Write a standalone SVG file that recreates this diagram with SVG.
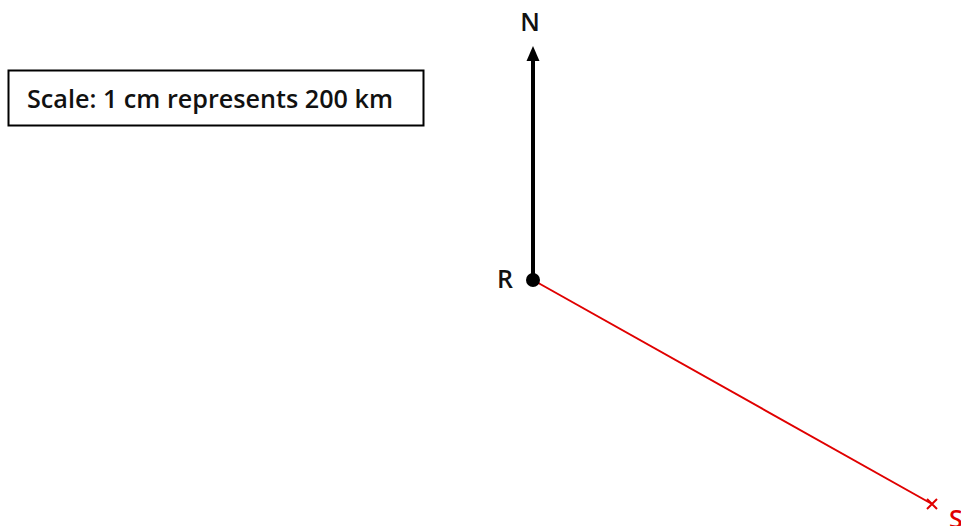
<svg xmlns="http://www.w3.org/2000/svg" width="961" height="526" viewBox="0 0 961 526">
<style>
.t{font-family:"Open Sans","Noto Sans","Liberation Sans",sans-serif;font-weight:600;font-size:25px;fill:#111}
</style>
<rect width="961" height="526" fill="#fff"/>
<g id="scale">
<rect x="8.5" y="70.5" width="415" height="55" fill="#fff" stroke="#000" stroke-width="2"/>
<text class="t" x="27" y="108" textLength="366" lengthAdjust="spacingAndGlyphs">Scale: 1 cm represents 200 km</text>
</g>
<g id="connectors">
<line x1="533" y1="280" x2="533" y2="60" stroke="#000" stroke-width="4"/>
<path d="M526.5,61 L533,46 L539.5,61 z" fill="#000"/>
<line x1="533" y1="280" x2="932" y2="504" stroke="#e00000" stroke-width="2"/>
</g>
<g id="N"><text class="t" x="530" y="31" text-anchor="middle">N</text></g>
<g id="R">
<circle cx="533" cy="280" r="7" fill="#000"/>
<text class="t" x="505" y="288" text-anchor="middle">R</text>
</g>
<g id="S">
<path d="M927,499 L937,509 M937,499 L927,509" stroke="#e00000" stroke-width="2"/>
<text class="t" x="949" y="528" style="fill:#e00000">S</text>
</g>
</svg>
